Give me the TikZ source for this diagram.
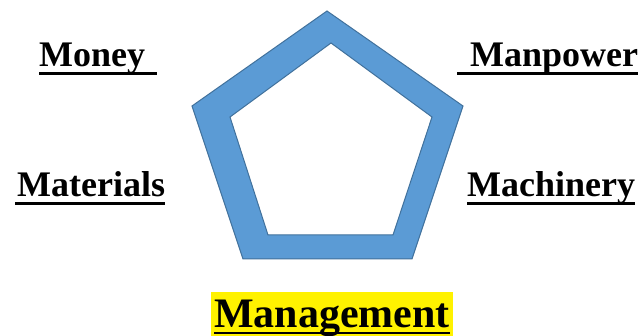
\documentclass[tikz,border=0pt]{standalone}
\usepackage{fontspec}
\setmainfont{Liberation Serif}
\definecolor{pentfill}{HTML}{5B9BD5}
\definecolor{pentline}{HTML}{41719C}
\begin{document}
\begin{tikzpicture}[x=1pt,y=-1pt,
  lbl/.style={anchor=base west,inner sep=0pt,font=\fontsize{36}{40}\selectfont\bfseries},
  ul/.style={line width=2.6pt,black}]
\useasboundingbox (0,0) rectangle (644,336);
% pentagon ring
\path[fill=pentfill,draw=pentline,line width=1pt,even odd rule]
  (327,11) -- (463,106) -- (412,259) -- (243,259) -- (192,106) -- cycle
  (331,43) -- (432,117) -- (393,235) -- (268,235) -- (230,117) -- cycle;
% labels
\node[lbl] (money) at (39,67) {Money\kern12pt};
\node[lbl] (manpower) at (457,67) {\kern13pt Manpower};
\node[lbl] (materials) at (15,197) {\kern2pt Materials};
\node[lbl] (machinery) at (467,197) {Machinery};
\node[anchor=base west,inner xsep=3pt,inner ysep=0pt,fill=yellow,text height=35pt,text depth=12pt,
  font=\fontsize{42}{46}\selectfont\bfseries] (mgmt) at (211,327) {Management};
\foreach \n in {money,manpower,materials,machinery}
  \draw[ul] ([yshift=-6.5pt]\n.base west) -- ([yshift=-6.5pt]\n.base east);
\draw[ul] ([xshift=3pt,yshift=-6pt]mgmt.base west) -- ([xshift=-3pt,yshift=-6pt]mgmt.base east);
\end{tikzpicture}
\end{document}
